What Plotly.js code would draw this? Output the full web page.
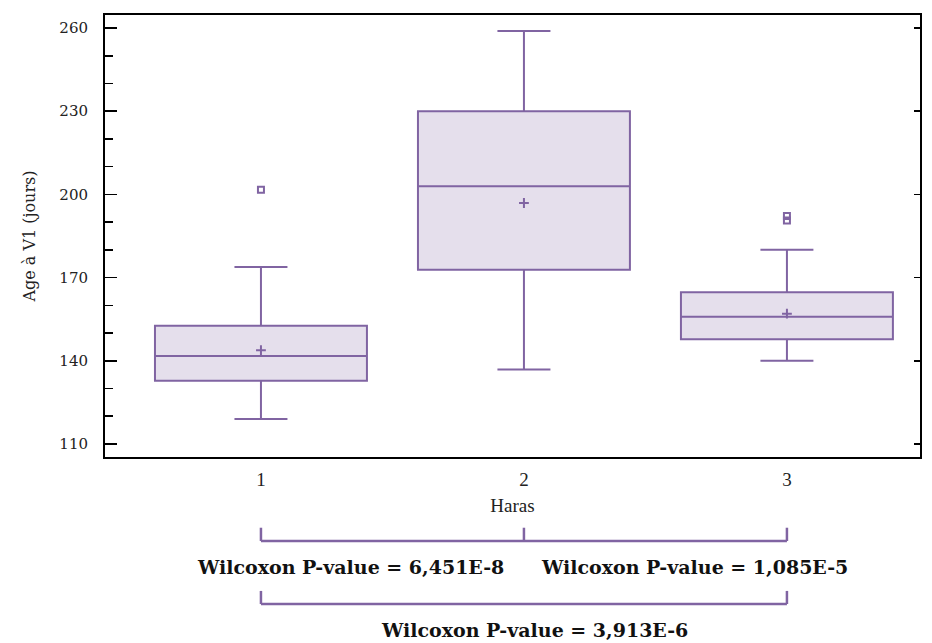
<!DOCTYPE html>
<html>
<head>
<meta charset="utf-8">
<script src="https://cdn.plot.ly/plotly-3.0.1.min.js"></script>
<style>html,body{margin:0;padding:0;background:#fff;}#chart{width:932px;height:643px;}</style>
</head>
<body>
<div id="chart"></div>
<script>
// Data
const categories = ['1', '2', '3'];
const positions = [1, 2, 3];
const q1Values = [132.8, 172.8, 147.8];
const medianValues = [141.7, 202.9, 155.9];
const q3Values = [152.6, 230.0, 164.7];
const lowerWhisker = [119.0, 136.9, 140.0];
const upperWhisker = [173.8, 258.9, 180.0];
const meanValues = [143.8, 196.9, 157.0];
const outlierX = [1, 3, 3];
const outlierY = [201.7, 192.2, 190.6];
const yTickValues = [110, 140, 170, 200, 230, 260];
const pvalueLabels = ['Wilcoxon P-value = 6,451E-8', 'Wilcoxon P-value = 1,085E-5', 'Wilcoxon P-value = 3,913E-6'];

const purple = '#8064A2';
const fill = '#E5DFEC';
const serif = 'DejaVu Serif';
const serif2 = 'Liberation Serif';

const traces = [
  {
    type: 'box',
    x: positions,
    q1: q1Values,
    median: medianValues,
    q3: q3Values,
    lowerfence: lowerWhisker,
    upperfence: upperWhisker,
    width: 0.806,
    whiskerwidth: 0.25,
    fillcolor: fill,
    line: {color: purple, width: 2},
    boxpoints: false,
    hoverinfo: 'skip'
  },
  {
    type: 'scatter', mode: 'markers',
    x: positions, y: meanValues,
    marker: {symbol: 'cross-thin', size: 7, color: purple, line: {color: purple, width: 2}},
    hoverinfo: 'skip'
  },
  {
    type: 'scatter', mode: 'markers',
    x: outlierX, y: outlierY,
    marker: {symbol: 'square-open', size: 6, color: purple, line: {color: purple, width: 2}},
    hoverinfo: 'skip'
  },
  {
    type: 'scatter', mode: 'markers', x: [2], y: [200], yaxis: 'y2',
    marker: {opacity: 0}, hoverinfo: 'skip'
  }
];

const bracketColor = purple;
const bw = 2.5;
const shapes = [
  {type: 'line', xref: 'x', yref: 'paper', x0: 1, x1: 3, y0: -0.190, y1: -0.190, line: {color: bracketColor, width: bw}},
  {type: 'line', xref: 'x', yref: 'paper', x0: 1, x1: 1, y0: -0.160, y1: -0.190, line: {color: bracketColor, width: bw}},
  {type: 'line', xref: 'x', yref: 'paper', x0: 2, x1: 2, y0: -0.160, y1: -0.190, line: {color: bracketColor, width: bw}},
  {type: 'line', xref: 'x', yref: 'paper', x0: 3, x1: 3, y0: -0.160, y1: -0.190, line: {color: bracketColor, width: bw}},
  {type: 'line', xref: 'x', yref: 'paper', x0: 1, x1: 3, y0: -0.3326, y1: -0.3326, line: {color: bracketColor, width: bw}},
  {type: 'line', xref: 'x', yref: 'paper', x0: 1, x1: 1, y0: -0.303, y1: -0.3326, line: {color: bracketColor, width: bw}},
  {type: 'line', xref: 'x', yref: 'paper', x0: 3, x1: 3, y0: -0.303, y1: -0.3326, line: {color: bracketColor, width: bw}}
];

const annFont = {family: serif, size: 19, color: '#111'};
const annotations = [
  {xref: 'x', yref: 'paper', x: 1.342, y: -0.249, yanchor: 'middle', text: '<b>' + pvalueLabels[0] + '</b>', showarrow: false, font: annFont},
  {xref: 'x', yref: 'paper', x: 2.650, y: -0.249, yanchor: 'middle', text: '<b>' + pvalueLabels[1] + '</b>', showarrow: false, font: annFont},
  {xref: 'x', yref: 'paper', x: 2.04, y: -0.391, yanchor: 'middle', text: '<b>' + pvalueLabels[2] + '</b>', showarrow: false, font: annFont}
];

const layout = {
  width: 932, height: 643,
  margin: {l: 105, r: 12, t: 15, b: 186},
  paper_bgcolor: '#fff', plot_bgcolor: '#fff',
  showlegend: false,
  hovermode: false,
  xaxis: {
    range: [0.407, 3.506],
    tickvals: positions, ticktext: categories,
    showline: true, mirror: true, linecolor: '#000', linewidth: 2,
    ticks: '', showgrid: false, zeroline: false,
    ticklabelstandoff: 4,
    tickfont: {family: serif2, size: 19, color: '#222'},
    title: {text: 'Haras', font: {family: serif2, size: 19, color: '#222'}, standoff: 10}
  },
  yaxis: {
    range: [105.3, 264.7],
    tickvals: yTickValues,
    showline: true, mirror: true, linecolor: '#000', linewidth: 2,
    ticks: 'inside', ticklen: 12, tickwidth: 1.5, tickcolor: '#000',
    minor: {dtick: 10, tick0: 110, ticks: 'inside', ticklen: 8, tickwidth: 1.5, tickcolor: '#000'},
    showgrid: false, zeroline: false,
    ticklabelstandoff: 12,
    tickfont: {family: serif, size: 15, color: '#222'},
    title: {text: 'Age à V1 (jours)', font: {family: serif, size: 16, color: '#222'}, standoff: 20}
  },
  yaxis2: {
    overlaying: 'y', side: 'right', matches: 'y', range: [105.3, 264.7],
    tickvals: yTickValues,
    ticks: 'inside', ticklen: 6, tickwidth: 1.5, tickcolor: '#000',
    showticklabels: false, showgrid: false, zeroline: false, showline: false
  },
  shapes: shapes,
  annotations: annotations
};

Plotly.newPlot('chart', traces, layout, {staticPlot: true, displayModeBar: false});
</script>
</body>
</html>
